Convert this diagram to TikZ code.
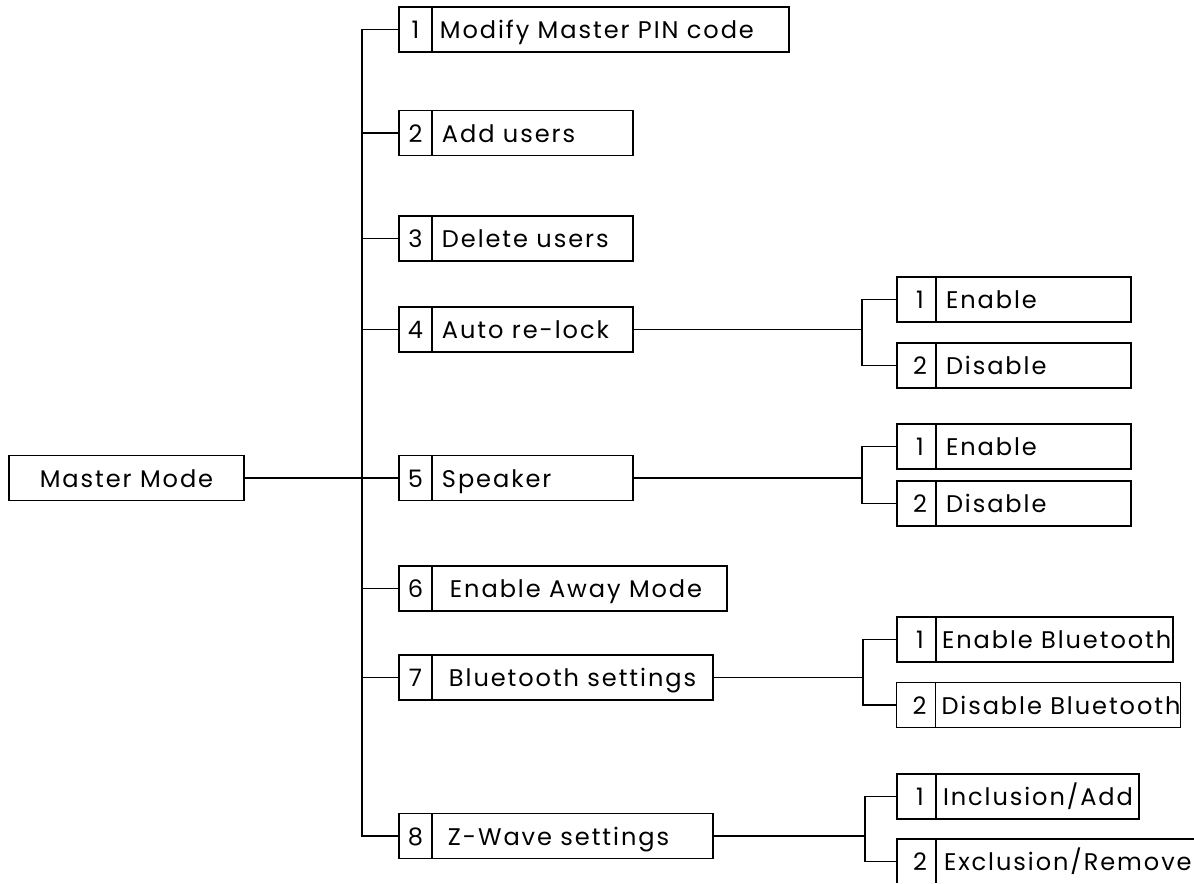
\documentclass[tikz,border=0pt]{standalone}
\usepackage{fontspec}
\setmainfont{Poppins}[LetterSpace=8]
\usetikzlibrary{positioning}
\newcommand{\menufont}{\fontsize{13.7}{15}\selectfont}
\begin{document}
\begin{tikzpicture}[x=0.02cm,y=-0.02cm]
	\tikzset{
		numcell/.style={rectangle, draw=black, line width=1pt, outer sep=0pt, inner sep=0pt, minimum width=0.66cm, minimum height=0.9cm, text height=11pt, text depth=0.6pt, font=\menufont},
		subnumcell/.style={numcell, minimum width=0.78cm, execute at begin node={\hskip 0.14cm}},
		itembox/.style 2 args={rectangle, draw=black, line width=1pt, outer sep=0pt, inner sep=0pt, minimum height=0.9cm, text height=11pt, text depth=0.6pt, font=\menufont,
			execute at begin node={\hbox to #1\bgroup\hskip #2}, execute at end node={\hfil\egroup}},
		rootbox/.style={rectangle, draw=black, line width=1pt, outer sep=0pt, minimum width=4.7cm, minimum height=0.9cm, text height=11pt, text depth=0.6pt, font=\menufont},
		link/.style={draw=black, line width=1pt}
	}
	\useasboundingbox (0,0) rectangle (1194,884);
	\clip (0,0) rectangle (1194,883);
	\node[rootbox] (master) at (126.5,478) {Master Mode};

	\node[numcell] (num1) at (415.5,29.5) {1};
	\node[itembox={7.14cm}{0.16cm}, right=0pt of num1] (item1) {Modify Master PIN code};
	\node[numcell] (num2) at (415.5,133) {2};
	\node[itembox={4.02cm}{0.2cm}, right=0pt of num2] (item2) {Add users};
	\node[numcell] (num3) at (415.5,238.5) {3};
	\node[itembox={4.02cm}{0.2cm}, right=0pt of num3] (item3) {Delete users};
	\node[numcell] (num4) at (415.5,329.5) {4};
	\node[itembox={4.02cm}{0.2cm}, right=0pt of num4] (item4) {Auto re-lock};
	\node[numcell] (num5) at (415.5,478) {5};
	\node[itembox={4.02cm}{0.2cm}, right=0pt of num5] (item5) {Speaker};
	\node[numcell] (num6) at (415.5,588.5) {6};
	\node[itembox={5.9cm}{0.36cm}, right=0pt of num6] (item6) {Enable Away Mode};
	\node[numcell] (num7) at (415.5,677.5) {7};
	\node[itembox={5.62cm}{0.34cm}, right=0pt of num7] (item7) {Bluetooth settings};
	\node[numcell] (num8) at (415.5,836) {8};
	\node[itembox={5.62cm}{0.32cm}, right=0pt of num8] (item8) {Z-Wave settings};

	\node[subnumcell] (subnum41) at (916.5,299.5) {1};
	\node[itembox={3.9cm}{0.2cm}, right=0pt of subnum41] (subitem41) {Enable};
	\node[subnumcell] (subnum42) at (916.5,365.5) {2};
	\node[itembox={3.9cm}{0.2cm}, right=0pt of subnum42] (subitem42) {Disable};
	\node[subnumcell] (subnum51) at (916.5,446.5) {1};
	\node[itembox={3.9cm}{0.2cm}, right=0pt of subnum51] (subitem51) {Enable};
	\node[subnumcell] (subnum52) at (916.5,503.5) {2};
	\node[itembox={3.9cm}{0.2cm}, right=0pt of subnum52] (subitem52) {Disable};
	\node[subnumcell] (subnum71) at (916.5,639.5) {1};
	\node[itembox={4.74cm}{0.12cm}, right=0pt of subnum71] (subitem71) {Enable Bluetooth};
	\node[subnumcell] (subnum72) at (916,705) {2};
	\node[itembox={4.9cm}{0.12cm}, right=0pt of subnum72] (subitem72) {Disable Bluetooth};
	\node[subnumcell] (subnum81) at (916.5,796.5) {1};
	\node[itembox={4.06cm}{0.14cm}, right=0pt of subnum81] (subitem81) {Inclusion/Add};
	\node[subnumcell] (subnum82) at (916.5,861.5) {2};
	\node[itembox={6cm}{0.16cm}, right=0pt of subnum82] (subitem82) {Exclusion/Remove};

	\coordinate (trunk) at (362,0);
	\coordinate (branchA) at (862,0);
	\coordinate (branchB) at (863,0);
	\coordinate (branchC) at (865,0);

	\draw[link] (master.east) -- (num5.west);
	\draw[link] (num1.west) -| (trunk |- num8.west) -- (num8.west);
	\draw[link] (num2.west) -- (num2.west -| trunk);
	\draw[link] (num3.west) -- (num3.west -| trunk);
	\draw[link] (num4.west) -- (num4.west -| trunk);
	\draw[link] (num6.west) -- (num6.west -| trunk);
	\draw[link] (num7.west) -- (num7.west -| trunk);

	\draw[link] (item4.east) -- (item4.east -| branchA);
	\draw[link] (subnum41.west) -| (branchA |- subnum42.west) -- (subnum42.west);
	\draw[link] (item5.east) -- (item5.east -| branchA);
	\draw[link] (subnum51.west) -| (branchA |- subnum52.west) -- (subnum52.west);
	\draw[link] (item7.east) -- (item7.east -| branchB);
	\draw[link] (subnum71.west) -| (branchB |- subnum72.west) -- (subnum72.west);
	\draw[link] (item8.east) -- (item8.east -| branchC);
	\draw[link] (subnum81.west) -| (branchC |- subnum82.west) -- (subnum82.west);
\end{tikzpicture}
\end{document}
